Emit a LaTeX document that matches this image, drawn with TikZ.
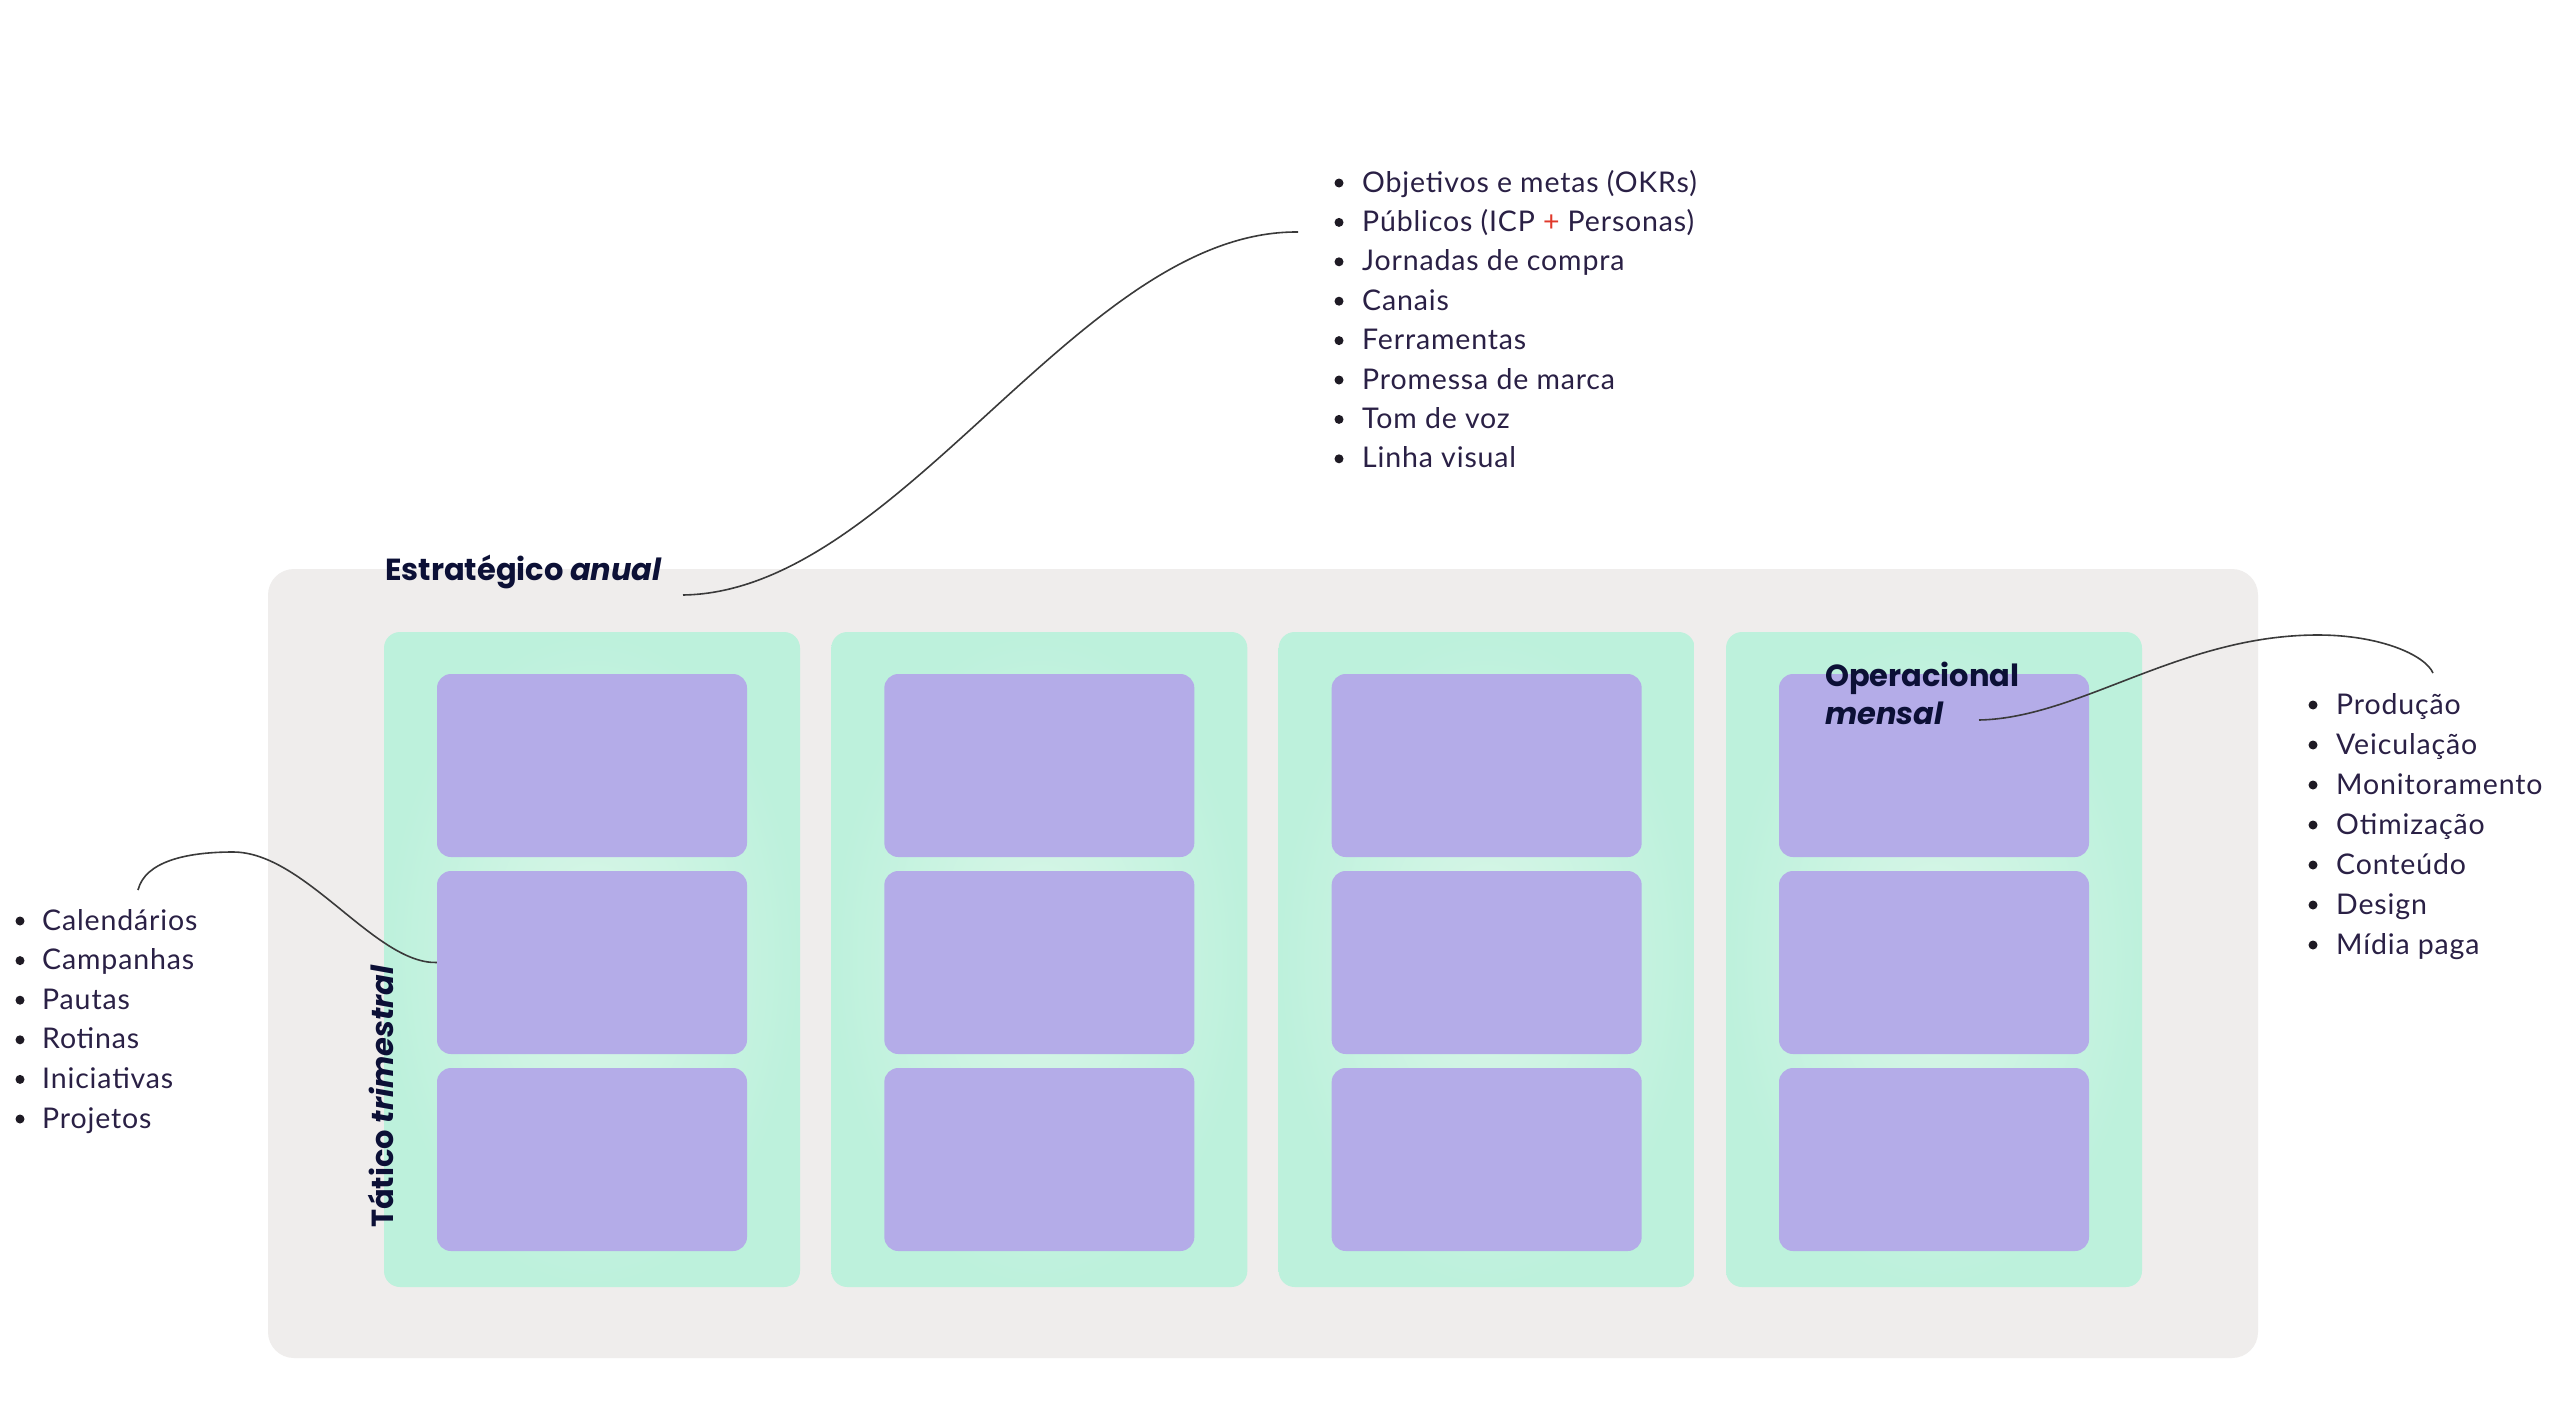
\documentclass[tikz,border=0pt]{standalone}
\usepackage{fontspec}
\setmainfont{Lato}
\newfontfamily\popfont{Poppins}
\newfontfamily\listfont{Lato}[LetterSpace=3.0]
\definecolor{graybg}{HTML}{EFEDEC}
\definecolor{mint}{HTML}{BDF1DC}
\definecolor{mintlight}{HTML}{DAF6E8}
\definecolor{lav}{HTML}{B4ACE8}
\definecolor{navy}{HTML}{0C1036}
\definecolor{listtxt}{HTML}{2A2045}
\definecolor{plusred}{HTML}{E0392B}
\definecolor{linecol}{HTML}{3A3A3A}
\definecolor{bulletcol}{HTML}{1E1A24}
\tikzset{
  graybox/.style={fill=graybg, rounded corners=26pt, inner sep=0pt, minimum width=1990pt, minimum height=789pt},
  greencol/.style={inner color=mintlight, outer color=mint, rounded corners=16pt, inner sep=0pt, minimum width=416pt, minimum height=655pt},
  purplebox/.style={fill=lav, rounded corners=14pt, inner sep=0pt, minimum width=310pt, minimum height=183pt},
  headlabel/.style={font=\popfont\bfseries\fontsize{30.5}{40}\selectfont, text=navy, inner sep=0pt, anchor=base west},
  listitem/.style={font=\listfont\fontsize{28.5}{34}\selectfont, text=listtxt, inner sep=0pt, anchor=base west},
  conn/.style={draw=linecol, line width=1.6pt},
}
\begin{document}
\begin{tikzpicture}[x=1pt,y=-1pt]
\useasboundingbox (0,0) rectangle (2560,1403);
\fill[white] (0,0) rectangle (2560,1403);
% outer panel
\node[graybox] (panel) at (1263,963.5) {};
% columns and boxes
\foreach \c in {1,2,3,4}{
  \pgfmathsetmacro{\cx}{592+447.33*(\c-1)}
  \node[greencol] (col-\c) at (\cx,959.5) {};
  \foreach \r in {1,2,3}{
    \pgfmathsetmacro{\cy}{765.5+197*(\r-1)}
    \node[purplebox] (p-\c-\r) at (\cx,\cy) {};
  }
}
% labels
\node[headlabel] (estr) at (385,580) {Estrat\'egico \textit{anual}};
\node[headlabel] (oper1) at (1825,686) {Operacional};
\node[headlabel] (oper2) at (1825,724) {\textit{mensal}};
\node[headlabel, rotate=90] (tatico) at (393,1228) {T\'atico \textit{trimestral}};
% top list
\foreach \t [count=\i] in {{Objetivos e metas (OKRs)},{Públicos (ICP {\color{plusred}+} Personas)},{Jornadas de compra},{Canais},{Ferramentas},{Promessa de marca},{Tom de voz},{Linha visual}}{
  \pgfmathsetmacro{\by}{192+39.4*(\i-1)}
  \fill[bulletcol] (1339,\by-9) circle (4.5);
  \node[listitem] (tl-\i) at (1362,\by) {\t};
}
% left list
\foreach \t [count=\i] in {Calendários,Campanhas,Pautas,Rotinas,Iniciativas,Projetos}{
  \pgfmathsetmacro{\by}{930+39.6*(\i-1)}
  \fill[bulletcol] (20,\by-9) circle (4.5);
  \node[listitem] (ll-\i) at (42,\by) {\t};
}
% right list
\foreach \t [count=\i] in {Produção,Veiculação,Monitoramento,Otimização,Conteúdo,Design,{Mídia paga}}{
  \pgfmathsetmacro{\by}{714+40*(\i-1)}
  \fill[bulletcol] (2313,\by-9) circle (4.5);
  \node[listitem] (rl-\i) at (2336,\by) {\t};
}
% connector end points
\coordinate (estrEnd) at (683,595);
\coordinate (topEnd) at (1298,232);
\coordinate (leftEnd) at (138,890);
\coordinate (leftPeak) at (233,852);
\coordinate (operEnd) at (1979,720);
\coordinate (rightPeak) at (2318,635);
\coordinate (rightEnd) at (2433,673);
% connectors
\draw[conn] (estrEnd) .. controls (900,592) and (1080,230) .. (topEnd);
\draw[conn] (leftEnd) .. controls (145,862) and (185,852) .. (leftPeak) .. controls (305,852) and (375,964) .. (p-1-2.west);
\draw[conn] (operEnd) .. controls (2080,718) and (2180,635) .. (rightPeak) .. controls (2380,635) and (2425,655) .. (rightEnd);
\end{tikzpicture}
\end{document}
